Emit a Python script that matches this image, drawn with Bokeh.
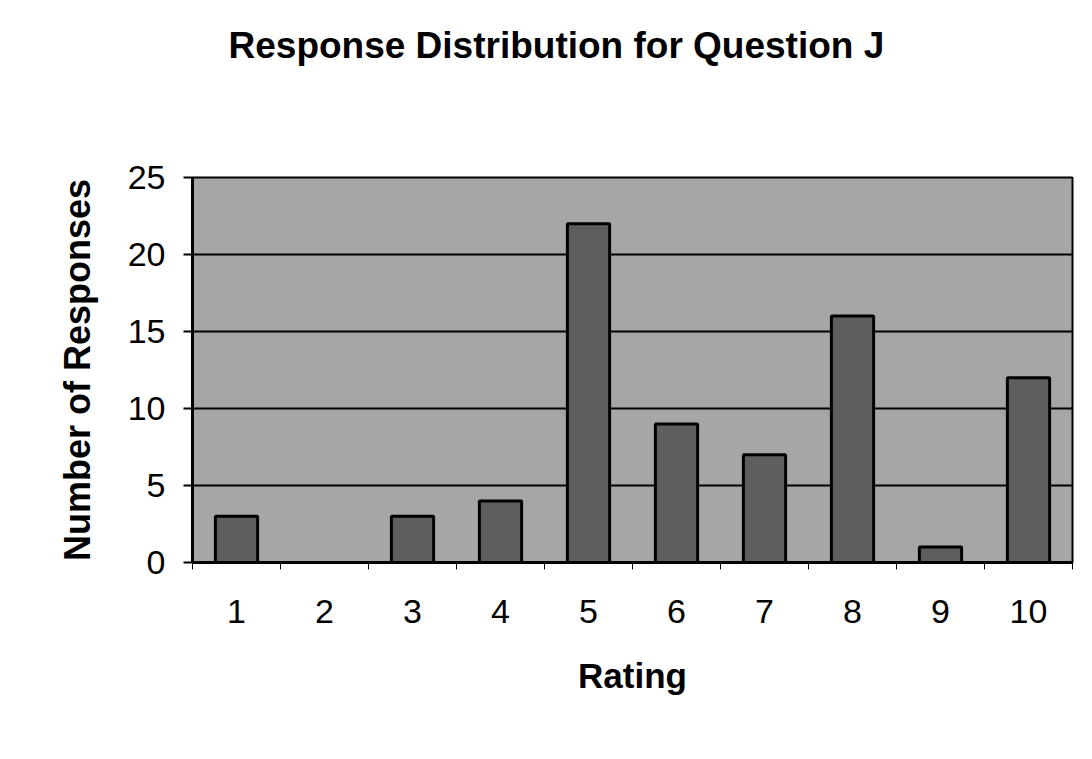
from bokeh.plotting import figure
from bokeh.models import FixedTicker, Title, LinearAxis
from bokeh.embed import file_html
from bokeh.resources import INLINE

ratings = [1, 2, 3, 4, 5, 6, 7, 8, 9, 10]
rating_labels = ["1", "2", "3", "4", "5", "6", "7", "8", "9", "10"]
counts = [3, 0, 3, 4, 22, 9, 7, 16, 1, 12]
y_ticks = [0, 5, 10, 15, 20, 25]
title_text = "Response Distribution for Question J"

FONT = "Liberation Sans"

p = figure(width=1090, height=757, output_backend="svg", toolbar_location=None,
           x_range=(0.5, 10.5), y_range=(0, 25),
           min_border_left=192, min_border_right=18, min_border_top=177, min_border_bottom=195)

p.background_fill_color = "#a6a6a6"
p.border_fill_color = "white"
p.outline_line_color = "black"
p.outline_line_width = 2

p.vbar(x=ratings, top=counts, width=0.48, fill_color="#5e5e5e",
       line_color="black", line_width=3)

xa = p.below[0]
ya = p.left[0]

# invisible spacer between the plot frame and the title
spacer = LinearAxis(ticker=FixedTicker(ticks=[5.5], minor_ticks=[]),
                    major_label_overrides={5.5: " "},
                    axis_line_color=None, major_tick_line_color=None,
                    minor_tick_line_color=None, major_tick_out=108, major_tick_in=0,
                    minor_tick_out=0, minor_tick_in=0,
                    major_label_standoff=0, major_label_text_font_size="1px")
p.add_layout(spacer, "above")

p.title.visible = False
t = Title(text=title_text, align="left", offset=36,
          text_font=FONT, text_font_size="37px", text_font_style="bold",
          text_color="black", standoff=0)
p.add_layout(t, "above")

xa.ticker = FixedTicker(ticks=ratings, minor_ticks=[r - 0.5 for r in ratings] + [10.5])
xa.major_label_overrides = {r: l for r, l in zip(ratings, rating_labels)}
xa.major_tick_out = 0
xa.major_tick_in = 0
xa.minor_tick_out = 7
xa.minor_tick_in = 0
xa.minor_tick_line_color = "black"
xa.axis_line_width = 3
xa.axis_line_color = "black"
xa.major_label_text_font = FONT
xa.major_label_text_font_size = "34px"
xa.major_label_text_color = "black"
xa.major_label_standoff = 30
xa.axis_label = "Rating"
xa.axis_label_text_font = FONT
xa.axis_label_text_font_size = "35px"
xa.axis_label_text_font_style = "bold"
xa.axis_label_text_color = "black"
xa.axis_label_standoff = 30

ya.ticker = FixedTicker(ticks=y_ticks, minor_ticks=[])
ya.major_tick_out = 9
ya.major_tick_in = 0
ya.major_tick_line_width = 2
ya.major_tick_line_color = "black"
ya.axis_line_width = 3
ya.axis_line_color = "black"
ya.major_label_text_font = FONT
ya.major_label_text_font_size = "34px"
ya.major_label_text_color = "black"
ya.major_label_standoff = 18
ya.axis_label = "Number of Responses"
ya.axis_label_text_font = FONT
ya.axis_label_text_font_size = "36px"
ya.axis_label_text_font_style = "bold"
ya.axis_label_text_color = "black"
ya.axis_label_standoff = 27

p.xgrid.visible = False
p.ygrid.grid_line_color = "black"
p.ygrid.grid_line_width = 2
p.ygrid.ticker = FixedTicker(ticks=y_ticks)

open("out.html", "w").write(file_html(p, INLINE))
